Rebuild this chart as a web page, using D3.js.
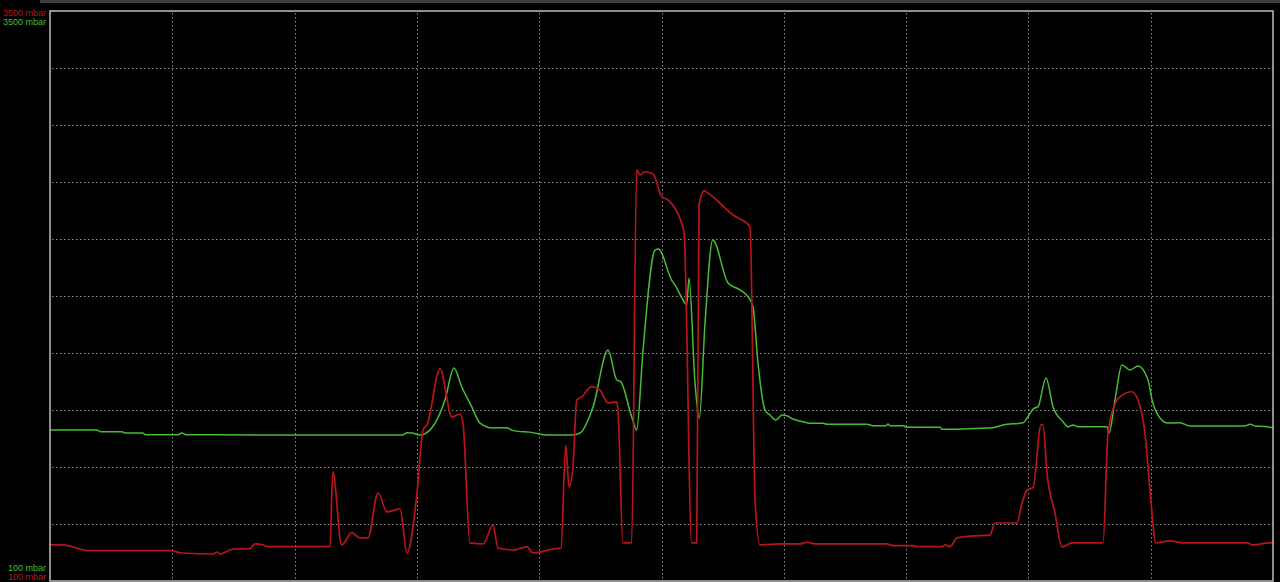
<!DOCTYPE html>
<html>
<head>
<meta charset="utf-8">
<script src="https://cdn.jsdelivr.net/npm/d3@7/dist/d3.min.js"></script>
<style>
html,body{margin:0;padding:0;background:#000;overflow:hidden;}
svg{display:block;}
</style>
</head>
<body>
<svg id="chart" width="1280" height="582"></svg>
<script>
// ---- data (time in % of window, pressure in mbar) ----
const redTime = [0,1.0,1.8,2.45,3.11,9.81,10.79,13.33,13.66,13.9,14.96,16.35,16.76,17.42,17.83,22.9,23.12,23.85,24.67,25.35,26.0,26.82,27.56,28.62,29.19,30.01,30.5,30.83,31.89,32.87,33.52,33.77,34.34,35.41,36.22,36.63,37.86,39.0,39.49,41.13,41.78,42.17,42.44,42.76,43.07,43.47,44.29,44.97,45.63,46.34,46.44,46.85,47.56,47.97,48.24,48.65,49.31,50.02,50.53,51.84,52.47,52.88,53.07,53.48,53.8,55.85,57.24,57.65,58.05,59.69,61.32,61.9,62.55,68.44,68.93,70.56,70.89,72.94,73.18,73.59,74.16,75.23,76.86,77.27,79.07,79.48,79.89,80.38,81.03,81.19,81.52,82.17,82.75,83.57,86.1,86.51,87.25,87.49,88.47,88.96,89.53,89.94,90.43,91.58,92.64,97.87,98.36,99.75,100];
const redValue = [315,315,305,291,281,281,267,261,273,261,291,293,321,315,305,305,752,315,388,357,357,625,512,530,267,625,1001,1031,1365,1078,1096,1042,327,321,434,297,285,303,267,291,297,911,661,780,1180,1198,1259,1239,1162,1168,1120,327,327,2552,2522,2541,2528,2392,2373,2184,327,327,2343,2428,2414,2283,2213,583,315,321,321,331,321,321,311,311,305,305,315,305,357,368,374,446,446,565,643,657,1031,1031,744,506,303,327,327,983,1180,1199,1229,1180,983,643,327,339,327,327,315,327,327];

const greenTime = [0,3.84,4.09,5.89,6.13,7.6,7.77,10.47,10.79,11.12,20.44,28.86,29.19,29.6,30.25,31.21,32.3,33.03,33.66,34.48,35.16,36.22,37.34,37.86,39.49,40.61,42.66,43.34,44.4,45.63,46.34,46.66,47.56,47.97,48.49,49.47,49.74,50.83,51.1,51.92,52.06,52.25,52.74,53.09,53.56,54.19,55.44,56.42,57.07,57.48,57.89,58.46,58.87,59.36,59.85,60.26,60.75,61.57,62.14,63.21,63.53,66.8,67.29,68.36,68.52,68.68,69.75,70.07,72.77,72.94,74.65,77.11,77.92,79.56,79.97,80.38,80.79,81.44,82.01,82.83,83.24,83.65,84.06,86.43,86.59,87.08,87.65,88.31,88.96,89.78,90.11,90.76,91.41,92.4,93.21,97.71,98.12,98.53,99.51,100];
const greenValue = [1001,1001,991,991,983,983,973,973,983,973,971,971,985,983,971,1013,1180,1371,1259,1140,1042,1013,1014,997,985,971,971,983,1138,1478,1299,1289,1080,1001,1478,2074,2080,1895,1866,1758,1746,1907,1281,1072,1639,2134,1878,1836,1796,1736,1400,1120,1090,1060,1090,1086,1066,1050,1041,1041,1035,1035,1026,1026,1037,1026,1026,1017,1017,1005,1007,1014,1031,1044,1080,1126,1140,1311,1140,1050,1020,1031,1020,1020,983,1180,1388,1359,1382,1299,1180,1072,1042,1044,1025,1025,1035,1025,1020,1013];

const yMin = 100, yMax = 3500;
const xGridTicks = [10,20,30,40,50,60,70,80,90];
const yGridTicks = [440,780,1120,1460,1800,2140,2480,2820,3160];
const topLabels = ["3500 mbar", "3500 mbar"];   // red, green
const bottomLabels = ["100 mbar", "100 mbar"];  // green, red

// ---- drawing ----
const svg = d3.select("#chart");
const W = 1280, H = 582;
const plot = {left: 50, top: 11, right: 1273, bottom: 581};
const RED = "#b8151a", GREEN = "#46bd36";

svg.append("rect").attr("width", W).attr("height", H).attr("fill", "#000");
// top window strip
svg.append("rect").attr("x", 40).attr("y", 0).attr("width", W - 40).attr("height", 3).attr("fill", "#3d3d3d");

const x = d3.scaleLinear().domain([0, 100]).range([plot.left, plot.right]);
const y = d3.scaleLinear().domain([yMin, yMax]).range([plot.bottom, plot.top]);

// grid
const grid = svg.append("g").attr("stroke", "#8e8e8e").attr("stroke-width", 1).attr("stroke-dasharray", "1.5,2.5");
grid.selectAll("line.v").data(xGridTicks).join("line").attr("class", "v")
  .attr("x1", d => Math.round(x(d)) + 0.5).attr("x2", d => Math.round(x(d)) + 0.5)
  .attr("y1", plot.top + 2).attr("y2", plot.bottom);
grid.selectAll("line.h").data(yGridTicks).join("line").attr("class", "h")
  .attr("y1", d => Math.round(y(d)) + 0.5).attr("y2", d => Math.round(y(d)) + 0.5)
  .attr("x1", plot.left + 2).attr("x2", plot.right);

// lines
const line = d3.line().x(d => x(d[0])).y(d => y(d[1])).curve(d3.curveMonotoneX);
svg.append("clipPath").attr("id", "clip").append("rect")
  .attr("x", plot.left).attr("y", plot.top).attr("width", plot.right - plot.left).attr("height", plot.bottom - plot.top);
const lines = svg.append("g").attr("clip-path", "url(#clip)");
lines.append("path").datum(greenTime.map((t, i) => [t, greenValue[i]]))
  .attr("d", line).attr("fill", "none").attr("stroke", GREEN).attr("stroke-width", 1.5).attr("stroke-linejoin", "round");
lines.append("path").datum(redTime.map((t, i) => [t, redValue[i]]))
  .attr("d", line).attr("fill", "none").attr("stroke", RED).attr("stroke-width", 1.7).attr("stroke-linejoin", "round");

// frame
svg.append("rect").attr("x", plot.left).attr("y", plot.top)
  .attr("width", plot.right - plot.left).attr("height", plot.bottom - plot.top)
  .attr("fill", "none").attr("stroke", "#bdbdbd").attr("stroke-width", 1.5);

// labels
const lab = svg.append("g").attr("font-family", "Liberation Sans, Arial, sans-serif")
  .attr("font-size", 9).attr("text-anchor", "end");
lab.append("text").attr("x", 46).attr("y", 16).attr("fill", RED).text(topLabels[0]);
lab.append("text").attr("x", 46).attr("y", 25).attr("fill", GREEN).text(topLabels[1]);
lab.append("text").attr("x", 46).attr("y", 571).attr("fill", GREEN).text(bottomLabels[0]);
lab.append("text").attr("x", 46).attr("y", 580).attr("fill", RED).text(bottomLabels[1]);
</script>
</body>
</html>
